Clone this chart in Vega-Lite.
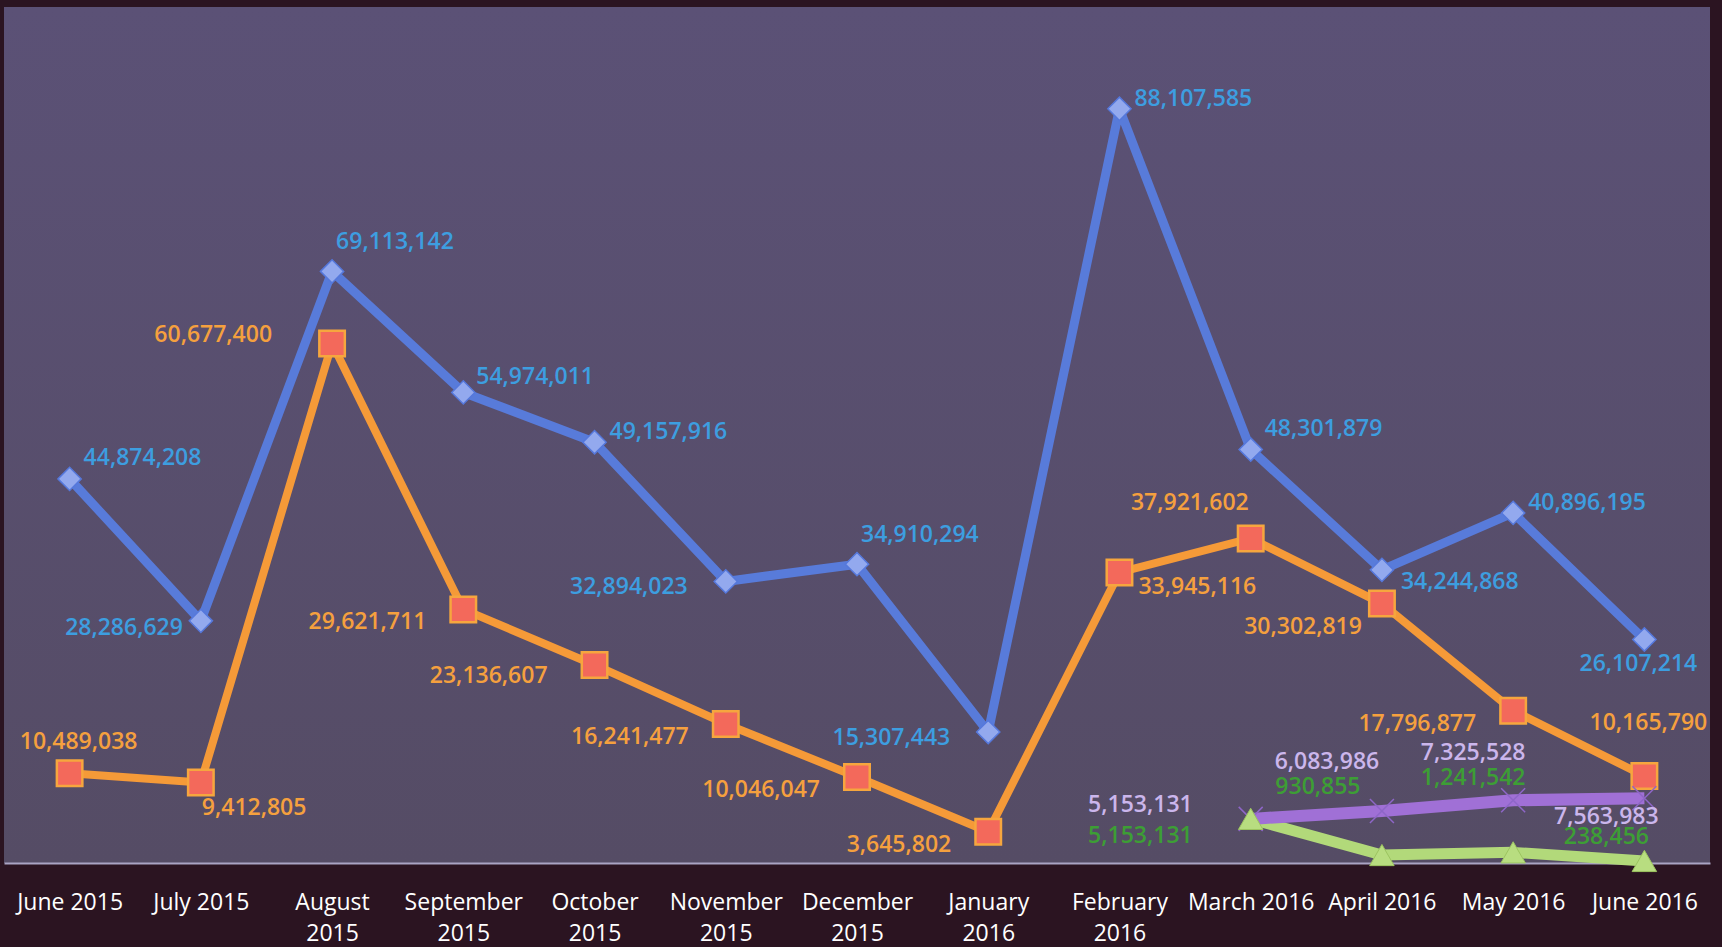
{
  "$schema": "https://vega.github.io/schema/vega-lite/v6.json",
  "width": 1706,
  "height": 856,
  "autosize": {"type": "none"},
  "padding": {"left": 4, "top": 7, "right": 12, "bottom": 84},
  "background": "#2b1421",
  "config": {
    "view": {
      "stroke": null,
      "fill": {"gradient": "linear", "x1": 0, "y1": 0, "x2": 0, "y2": 1, "stops": [{"offset": 0, "color": "#5b5176"}, {"offset": 1, "color": "#554c65"}]}
    },
    "text": {"font": "Open Sans", "fontSize": 23, "fontWeight": 600, "baseline": "middle"}
  },
  "data": {
    "values": [
      {"month": "June 2015", "series": "Series1", "value": 44874208},
      {"month": "July 2015", "series": "Series1", "value": 28286629},
      {"month": "August 2015", "series": "Series1", "value": 69113142},
      {"month": "September 2015", "series": "Series1", "value": 54974011},
      {"month": "October 2015", "series": "Series1", "value": 49157916},
      {"month": "November 2015", "series": "Series1", "value": 32894023},
      {"month": "December 2015", "series": "Series1", "value": 34910294},
      {"month": "January 2016", "series": "Series1", "value": 15307443},
      {"month": "February 2016", "series": "Series1", "value": 88107585},
      {"month": "March 2016", "series": "Series1", "value": 48301879},
      {"month": "April 2016", "series": "Series1", "value": 34244868},
      {"month": "May 2016", "series": "Series1", "value": 40896195},
      {"month": "June 2016", "series": "Series1", "value": 26107214},
      {"month": "June 2015", "series": "Series2", "value": 10489038},
      {"month": "July 2015", "series": "Series2", "value": 9412805},
      {"month": "August 2015", "series": "Series2", "value": 60677400},
      {"month": "September 2015", "series": "Series2", "value": 29621711},
      {"month": "October 2015", "series": "Series2", "value": 23136607},
      {"month": "November 2015", "series": "Series2", "value": 16241477},
      {"month": "December 2015", "series": "Series2", "value": 10046047},
      {"month": "January 2016", "series": "Series2", "value": 3645802},
      {"month": "February 2016", "series": "Series2", "value": 33945116},
      {"month": "March 2016", "series": "Series2", "value": 37921602},
      {"month": "April 2016", "series": "Series2", "value": 30302819},
      {"month": "May 2016", "series": "Series2", "value": 17796877},
      {"month": "June 2016", "series": "Series2", "value": 10165790},
      {"month": "March 2016", "series": "Series3", "value": 5153131},
      {"month": "April 2016", "series": "Series3", "value": 6083986},
      {"month": "May 2016", "series": "Series3", "value": 7325528},
      {"month": "June 2016", "series": "Series3", "value": 7563983},
      {"month": "March 2016", "series": "Series4", "value": 5153131},
      {"month": "April 2016", "series": "Series4", "value": 930855},
      {"month": "May 2016", "series": "Series4", "value": 1241542},
      {"month": "June 2016", "series": "Series4", "value": 238456}
    ]
  },
  "encoding": {
    "x": {
      "field": "month",
      "type": "ordinal",
      "sort": ["June 2015", "July 2015", "August 2015", "September 2015", "October 2015", "November 2015", "December 2015", "January 2016", "February 2016", "March 2016", "April 2016", "May 2016", "June 2016"],
      "scale": {"type": "point", "padding": 0.5},
      "axis": {
        "title": null,
        "labelAngle": 0,
        "labelExpr": "length(datum.label) > 10 ? split(datum.label, ' ') : datum.label",
        "labelFont": "Open Sans",
        "labelFontSize": 23,
        "labelColor": "#ffffff",
        "labelLineHeight": 31,
        "labelBaseline": "top",
        "labelPadding": 28,
        "labelOverlap": false,
        "labelBound": false,
        "ticks": false,
        "domainColor": "#aaa4c4",
        "domainWidth": 2,
        "grid": false
      }
    },
    "y": {"field": "value", "type": "quantitative", "scale": {"domain": [0, 100000000], "nice": false, "zero": true}, "axis": null}
  },
  "layer": [
    {"transform": [{"filter": "datum.series === 'Series1'"}], "mark": {"type": "line", "color": "#587bda", "strokeWidth": 9, "strokeJoin": "round"}},
    {"transform": [{"filter": "datum.series === 'Series2'"}], "mark": {"type": "line", "color": "#f59a38", "strokeWidth": 8, "strokeJoin": "round"}},
    {"transform": [{"filter": "datum.series === 'Series4'"}], "mark": {"type": "line", "color": "#b2d97a", "strokeWidth": 11, "strokeJoin": "round"}},
    {"transform": [{"filter": "datum.series === 'Series3'"}], "mark": {"type": "line", "color": "#a070d6", "strokeWidth": 12, "strokeJoin": "round"}},
    {"transform": [{"filter": "datum.series === 'Series1'"}], "mark": {"type": "point", "shape": "diamond", "filled": true, "size": 540, "fill": "#93a9ee", "stroke": "#5578dc", "strokeWidth": 1.5, "opacity": 1}},
    {"transform": [{"filter": "datum.series === 'Series2'"}], "mark": {"type": "point", "shape": "square", "filled": true, "size": 650, "fill": "#f3695b", "stroke": "#f6a63e", "strokeWidth": 2.5, "opacity": 1}},
    {"transform": [{"filter": "datum.series === 'Series3'"}], "mark": {"type": "point", "shape": "M-1,-1L1,1M-1,1L1,-1", "filled": false, "size": 576, "stroke": "#8e66c8", "strokeWidth": 1.5, "opacity": 1}},
    {"transform": [{"filter": "datum.series === 'Series4'"}], "mark": {"type": "point", "shape": "triangle-up", "filled": true, "size": 600, "fill": "#b8dd80", "stroke": "#9cc460", "strokeWidth": 1, "opacity": 1}},

    {"transform": [{"filter": "datum.series === 'Series1' && indexof(['June 2015','March 2016'], datum.month) >= 0"}], "mark": {"type": "text", "align": "left", "dx": 14, "dy": -21, "color": "#3d9ee0"}, "encoding": {"text": {"field": "value", "type": "quantitative", "format": ",d"}}},
    {"transform": [{"filter": "datum.series === 'Series1' && indexof(['September 2015'], datum.month) >= 0"}], "mark": {"type": "text", "align": "left", "dx": 13, "dy": -15, "color": "#3d9ee0"}, "encoding": {"text": {"field": "value", "type": "quantitative", "format": ",d"}}},
    {"transform": [{"filter": "datum.series === 'Series1' && indexof(['October 2015','February 2016','May 2016'], datum.month) >= 0"}], "mark": {"type": "text", "align": "left", "dx": 15, "dy": -10, "color": "#3d9ee0"}, "encoding": {"text": {"field": "value", "type": "quantitative", "format": ",d"}}},
    {"transform": [{"filter": "datum.series === 'Series1' && indexof(['August 2015','December 2015'], datum.month) >= 0"}], "mark": {"type": "text", "align": "left", "dx": 4, "dy": -29, "color": "#3d9ee0"}, "encoding": {"text": {"field": "value", "type": "quantitative", "format": ",d"}}},
    {"transform": [{"filter": "datum.series === 'Series1' && indexof(['July 2015'], datum.month) >= 0"}], "mark": {"type": "text", "align": "right", "dx": -18, "dy": 7, "color": "#3d9ee0"}, "encoding": {"text": {"field": "value", "type": "quantitative", "format": ",d"}}},
    {"transform": [{"filter": "datum.series === 'Series1' && indexof(['November 2015','January 2016'], datum.month) >= 0"}], "mark": {"type": "text", "align": "right", "dx": -38, "dy": 6, "color": "#3d9ee0"}, "encoding": {"text": {"field": "value", "type": "quantitative", "format": ",d"}}},
    {"transform": [{"filter": "datum.series === 'Series1' && indexof(['April 2016'], datum.month) >= 0"}], "mark": {"type": "text", "align": "left", "dx": 19, "dy": 12, "color": "#3d9ee0"}, "encoding": {"text": {"field": "value", "type": "quantitative", "format": ",d"}}},
    {"transform": [{"filter": "datum.series === 'Series1' && indexof(['June 2016'], datum.month) >= 0"}], "mark": {"type": "text", "align": "center", "dx": -6, "dy": 24, "color": "#3d9ee0"}, "encoding": {"text": {"field": "value", "type": "quantitative", "format": ",d"}}},

    {"transform": [{"filter": "datum.series === 'Series2' && indexof(['June 2015'], datum.month) >= 0"}], "mark": {"type": "text", "align": "center", "dx": 9, "dy": -31, "color": "#f5a03e"}, "encoding": {"text": {"field": "value", "type": "quantitative", "format": ",d"}}},
    {"transform": [{"filter": "datum.series === 'Series2' && indexof(['June 2016'], datum.month) >= 0"}], "mark": {"type": "text", "align": "center", "dx": 4, "dy": -53, "color": "#f5a03e"}, "encoding": {"text": {"field": "value", "type": "quantitative", "format": ",d"}}},
    {"transform": [{"filter": "datum.series === 'Series2' && indexof(['July 2015'], datum.month) >= 0"}], "mark": {"type": "text", "align": "left", "dx": 1, "dy": 26, "color": "#f5a03e"}, "encoding": {"text": {"field": "value", "type": "quantitative", "format": ",d"}}},
    {"transform": [{"filter": "datum.series === 'Series2' && indexof(['August 2015'], datum.month) >= 0"}], "mark": {"type": "text", "align": "right", "dx": -60, "dy": -9, "color": "#f5a03e"}, "encoding": {"text": {"field": "value", "type": "quantitative", "format": ",d"}}},
    {"transform": [{"filter": "datum.series === 'Series2' && indexof(['September 2015','November 2015','December 2015','January 2016','May 2016'], datum.month) >= 0"}], "mark": {"type": "text", "align": "right", "dx": -37, "dy": 13, "color": "#f5a03e"}, "encoding": {"text": {"field": "value", "type": "quantitative", "format": ",d"}}},
    {"transform": [{"filter": "datum.series === 'Series2' && indexof(['October 2015'], datum.month) >= 0"}], "mark": {"type": "text", "align": "right", "dx": -47, "dy": 11, "color": "#f5a03e"}, "encoding": {"text": {"field": "value", "type": "quantitative", "format": ",d"}}},
    {"transform": [{"filter": "datum.series === 'Series2' && indexof(['April 2016'], datum.month) >= 0"}], "mark": {"type": "text", "align": "right", "dx": -20, "dy": 23, "color": "#f5a03e"}, "encoding": {"text": {"field": "value", "type": "quantitative", "format": ",d"}}},
    {"transform": [{"filter": "datum.series === 'Series2' && indexof(['March 2016'], datum.month) >= 0"}], "mark": {"type": "text", "align": "right", "dx": -2, "dy": -35, "color": "#f5a03e"}, "encoding": {"text": {"field": "value", "type": "quantitative", "format": ",d"}}},
    {"transform": [{"filter": "datum.series === 'Series2' && indexof(['February 2016'], datum.month) >= 0"}], "mark": {"type": "text", "align": "left", "dx": 19, "dy": 15, "color": "#f5a03e"}, "encoding": {"text": {"field": "value", "type": "quantitative", "format": ",d"}}},

    {"transform": [{"filter": "datum.series === 'Series3' && indexof(['March 2016'], datum.month) >= 0"}], "mark": {"type": "text", "align": "right", "dx": -58, "dy": -14, "color": "#cbb6ec"}, "encoding": {"text": {"field": "value", "type": "quantitative", "format": ",d"}}},
    {"transform": [{"filter": "datum.series === 'Series3' && indexof(['April 2016'], datum.month) >= 0"}], "mark": {"type": "text", "align": "center", "dx": -55, "dy": -49, "color": "#cbb6ec"}, "encoding": {"text": {"field": "value", "type": "quantitative", "format": ",d"}}},
    {"transform": [{"filter": "datum.series === 'Series3' && indexof(['May 2016'], datum.month) >= 0"}], "mark": {"type": "text", "align": "center", "dx": -40, "dy": -47, "color": "#cbb6ec"}, "encoding": {"text": {"field": "value", "type": "quantitative", "format": ",d"}}},
    {"transform": [{"filter": "datum.series === 'Series3' && indexof(['June 2016'], datum.month) >= 0"}], "mark": {"type": "text", "align": "center", "dx": -38, "dy": 19, "color": "#cbb6ec"}, "encoding": {"text": {"field": "value", "type": "quantitative", "format": ",d"}}},

    {"transform": [{"filter": "datum.series === 'Series4' && indexof(['March 2016'], datum.month) >= 0"}], "mark": {"type": "text", "align": "right", "dx": -58, "dy": 17, "color": "#3d9e35"}, "encoding": {"text": {"field": "value", "type": "quantitative", "format": ",d"}}},
    {"transform": [{"filter": "datum.series === 'Series4' && indexof(['April 2016'], datum.month) >= 0"}], "mark": {"type": "text", "align": "center", "dx": -64, "dy": -68, "color": "#3d9e35"}, "encoding": {"text": {"field": "value", "type": "quantitative", "format": ",d"}}},
    {"transform": [{"filter": "datum.series === 'Series4' && indexof(['May 2016'], datum.month) >= 0"}], "mark": {"type": "text", "align": "center", "dx": -40, "dy": -74, "color": "#3d9e35"}, "encoding": {"text": {"field": "value", "type": "quantitative", "format": ",d"}}},
    {"transform": [{"filter": "datum.series === 'Series4' && indexof(['June 2016'], datum.month) >= 0"}], "mark": {"type": "text", "align": "center", "dx": -38, "dy": -24, "color": "#3d9e35"}, "encoding": {"text": {"field": "value", "type": "quantitative", "format": ",d"}}}
  ]
}
